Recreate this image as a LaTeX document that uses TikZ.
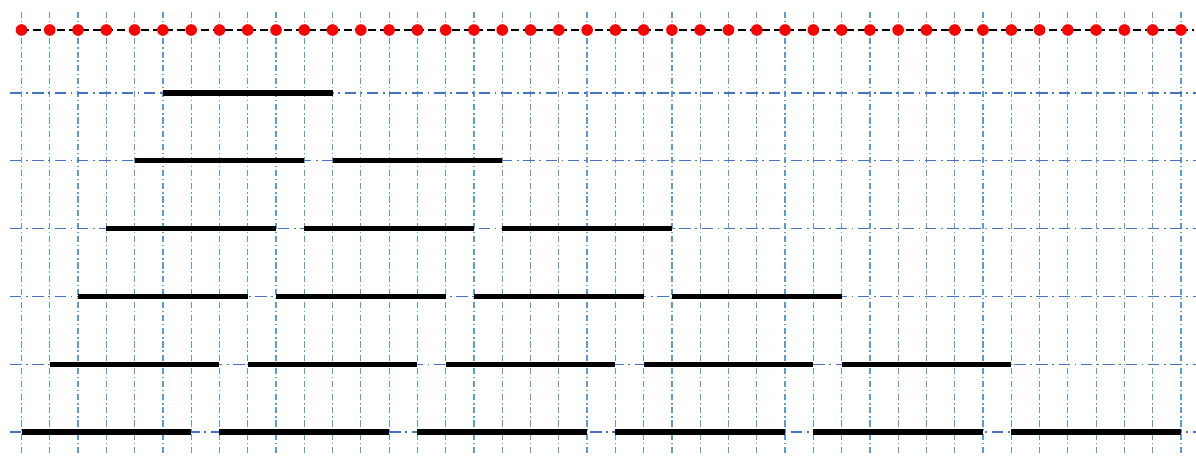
\documentclass[tikz,border=0pt]{standalone}
\definecolor{gridblue}{RGB}{91,155,213}
\definecolor{rowblue}{RGB}{68,114,196}
\begin{document}
\begin{tikzpicture}[x=0.02cm, y=-0.02cm,
    vline/.style={gridblue, line width=0.7pt, dash pattern=on 3.5pt off 1.6pt on 0.8pt off 1.6pt},
    hline/.style={rowblue, line width=0.6pt, dash pattern=on 6.5pt off 2.6pt on 1pt off 2.6pt},
    axisline/.style={black, line width=1.6pt, dash pattern=on 4.5pt off 2.3pt},
    sample/.style={circle, fill=red, inner sep=0pt, minimum size=6.6pt},
    window/.style={black, line width=2.9pt}]

    \useasboundingbox (0,0) rectangle (1196,462);

    % Define the grid columns (one per sample)
    \foreach \i in {0,...,41} {
        \coordinate (t\i) at ({21.5+28.28*\i},12);
        \coordinate (b\i) at ({21.5+28.28*\i},455);
    }

    % Define the rows and the points on them
    \foreach \r in {1,...,6} {
        \pgfmathsetmacro{\yy}{93+67.8*(\r-1)}
        \coordinate (h\r) at (10,\yy);
        \coordinate (he\r) at (1196,\yy);
        \foreach \i in {0,...,41}
            \coordinate (g\r-\i) at ({21.5+28.28*\i},\yy);
    }

    % Draw the dash-dotted grid
    \foreach \i in {0,...,41}
        \draw[vline] (t\i) -- (b\i);
    \foreach \r in {1,...,6}
        \draw[hline] (h\r) -- (he\r);

    % Draw the sample axis with its points
    \coordinate (a0) at (21.5,30);
    \coordinate (a1) at (1194,30);
    \draw[axisline] (a0) -- (a1);
    \foreach \i in {0,...,41}
        \node[sample] (s\i) at ({21.5+28.28*\i},30) {};

    % Draw the windows, row r holds r of them
    \foreach \r in {1,...,6} {
        \pgfmathtruncatemacro{\s}{6-\r}
        \foreach \k in {1,...,\r} {
            \pgfmathtruncatemacro{\a}{\s+7*(\k-1)}
            \pgfmathtruncatemacro{\b}{\a+6}
            \draw[window] (g\r-\a) -- (g\r-\b);
        }
    }

\end{tikzpicture}
\end{document}
